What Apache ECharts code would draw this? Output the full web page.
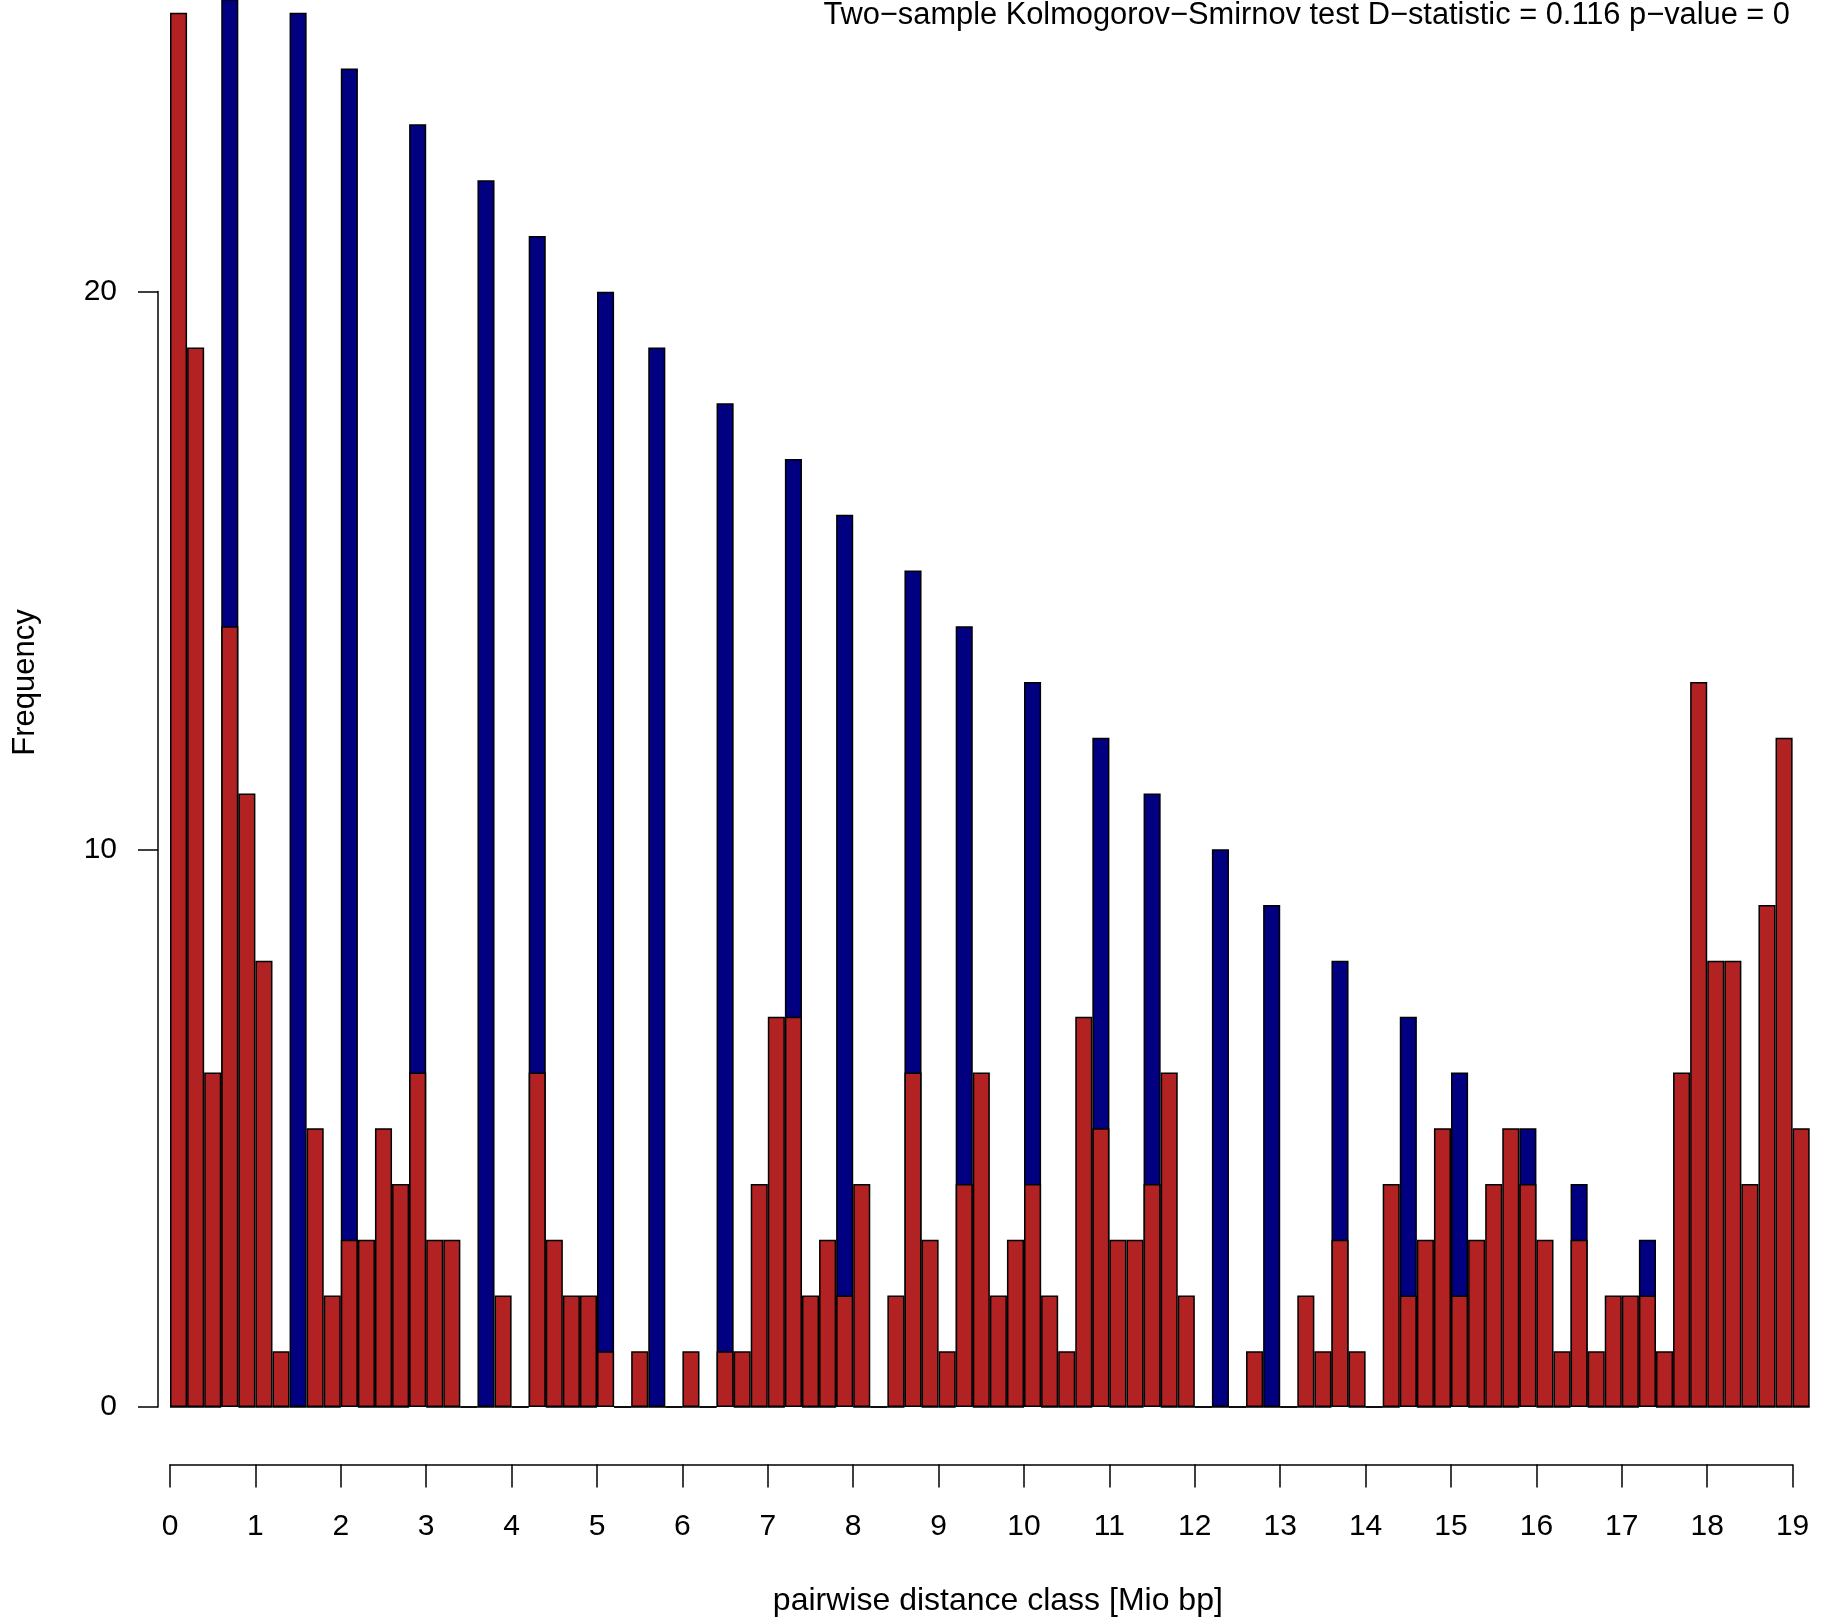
<!DOCTYPE html>
<html>
<head>
<meta charset="utf-8">
<title>pairwise distance class histogram</title>
<script src="https://cdn.jsdelivr.net/npm/echarts@6/dist/echarts.min.js"></script>
<style>
  html, body { margin: 0; padding: 0; background: #fff; }
  #chart { width: 1837px; height: 1620px; }
</style>
</head>
<body>
<div id="chart"></div>
<script>
// distance classes, 0.2 Mio bp wide (lower edge of each bin)
const binClasses = [
  '0.0','0.2','0.4','0.6','0.8','1.0','1.2','1.4','1.6','1.8',
  '2.0','2.2','2.4','2.6','2.8','3.0','3.2','3.4','3.6','3.8',
  '4.0','4.2','4.4','4.6','4.8','5.0','5.2','5.4','5.6','5.8',
  '6.0','6.2','6.4','6.6','6.8','7.0','7.2','7.4','7.6','7.8',
  '8.0','8.2','8.4','8.6','8.8','9.0','9.2','9.4','9.6','9.8',
  '10.0','10.2','10.4','10.6','10.8','11.0','11.2','11.4','11.6','11.8',
  '12.0','12.2','12.4','12.6','12.8','13.0','13.2','13.4','13.6','13.8',
  '14.0','14.2','14.4','14.6','14.8','15.0','15.2','15.4','15.6','15.8',
  '16.0','16.2','16.4','16.6','16.8','17.0','17.2','17.4','17.6','17.8',
  '18.0','18.2','18.4','18.6','18.8','19.0'
];

// blue histogram (drawn first)
const blueCounts = [
  0, 0, 0, 26, 0, 0, 0, 25, 0, 0,
  24, 0, 0, 0, 23, 0, 0, 0, 22, 0,
  0, 21, 0, 0, 0, 20, 0, 0, 19, 0,
  0, 0, 18, 0, 0, 0, 17, 0, 0, 16,
  0, 0, 0, 15, 0, 0, 14, 0, 0, 0,
  13, 0, 0, 0, 12, 0, 0, 11, 0, 0,
  0, 10, 0, 0, 9, 0, 0, 0, 8, 0,
  0, 0, 7, 0, 0, 6, 0, 0, 0, 5,
  0, 0, 4, 0, 0, 0, 3, 0, 0, 0,
  0, 0, 0, 0, 0, 0
];

// red histogram (drawn on top)
const redCounts = [
  25, 19, 6, 14, 11, 8, 1, 0, 5, 2,
  3, 3, 5, 4, 6, 3, 3, 0, 0, 2,
  0, 6, 3, 2, 2, 1, 0, 1, 0, 0,
  1, 0, 1, 1, 4, 7, 7, 2, 3, 2,
  4, 0, 2, 6, 3, 1, 4, 6, 2, 3,
  4, 2, 1, 7, 5, 3, 3, 4, 6, 2,
  0, 0, 0, 1, 0, 0, 2, 1, 3, 1,
  0, 4, 2, 3, 5, 2, 3, 4, 5, 4,
  3, 1, 3, 1, 2, 2, 2, 1, 6, 13,
  8, 8, 4, 9, 12, 5
];

const titleText = 'Two\u2212sample Kolmogorov\u2212Smirnov test D\u2212statistic = 0.116 p\u2212value = 0';
const fontFamily = '"Liberation Sans", Arial, Helvetica, sans-serif';

const chart = echarts.init(document.getElementById('chart'));

const option = {
  animation: false,
  backgroundColor: '#ffffff',
  title: {
    text: titleText,
    right: 47,
    top: 0,
    padding: 0,
    textStyle: { fontFamily: fontFamily, fontSize: 30.8, fontWeight: 'normal', color: '#000' }
  },
  grid: [
    // bars
    { left: 170, right: 27.3, top: 0, bottom: 213, containLabel: false, outerBoundsMode: 'none' },
    // x axis drawn below the plot, 0..19 only
    { left: 170, width: 1622.6, top: 1400, height: 64.5, containLabel: false, outerBoundsMode: 'none' },
    // y axis drawn left of the plot, 0..20 only
    { left: 158, width: 100, top: 291.6, height: 1115.5, containLabel: false, outerBoundsMode: 'none' }
  ],
  xAxis: [
    {
      gridIndex: 0,
      type: 'category',
      data: binClasses,
      axisLine: { show: false },
      axisTick: { show: false },
      axisLabel: { show: false },
      splitLine: { show: false },
      name: 'pairwise distance class [Mio bp]',
      nameLocation: 'middle',
      nameGap: 178,
      nameTextStyle: { fontFamily: fontFamily, fontSize: 32, color: '#000', padding: [0, 0, 0, 16] }
    },
    {
      gridIndex: 1,
      type: 'value',
      min: 0,
      max: 19,
      interval: 1,
      axisLine: { lineStyle: { color: '#000', width: 1.5 } },
      axisTick: { length: 23, lineStyle: { color: '#000', width: 1.5 } },
      axisLabel: { fontFamily: fontFamily, fontSize: 30, color: '#000', margin: 47 },
      splitLine: { show: false }
    },
    { gridIndex: 2, type: 'value', show: false }
  ],
  yAxis: [
    {
      gridIndex: 0,
      type: 'value',
      min: 0,
      max: 25.23,
      axisLine: { show: false },
      axisTick: { show: false },
      axisLabel: { show: false },
      splitLine: { show: false },
      name: 'Frequency',
      nameLocation: 'middle',
      nameGap: 129,
      nameTextStyle: { fontFamily: fontFamily, fontSize: 31, color: '#000', padding: [0, 0, 0, 42] }
    },
    { gridIndex: 1, type: 'value', show: false },
    {
      gridIndex: 2,
      type: 'value',
      min: 0,
      max: 20,
      interval: 10,
      axisLine: { show: true, lineStyle: { color: '#000', width: 1.5 } },
      axisTick: { show: true, length: 20, lineStyle: { color: '#000', width: 1.5 } },
      axisLabel: { fontFamily: fontFamily, fontSize: 30, color: '#000', margin: 41 },
      splitLine: { show: false }
    }
  ],
  series: [
    {
      name: 'blue',
      type: 'bar',
      xAxisIndex: 0,
      yAxisIndex: 0,
      data: blueCounts,
      barCategoryGap: '0%',
      barGap: '-100%',
      itemStyle: { color: '#000080', borderColor: '#000', borderWidth: 1.5 }
    },
    {
      name: 'red',
      type: 'bar',
      xAxisIndex: 0,
      yAxisIndex: 0,
      data: redCounts,
      barCategoryGap: '0%',
      barGap: '-100%',
      itemStyle: { color: '#B22222', borderColor: '#000', borderWidth: 1.5 }
    }
  ]
};

chart.setOption(option);

window.addEventListener('resize', function() {
  chart.resize();
});
</script>
</body>
</html>
